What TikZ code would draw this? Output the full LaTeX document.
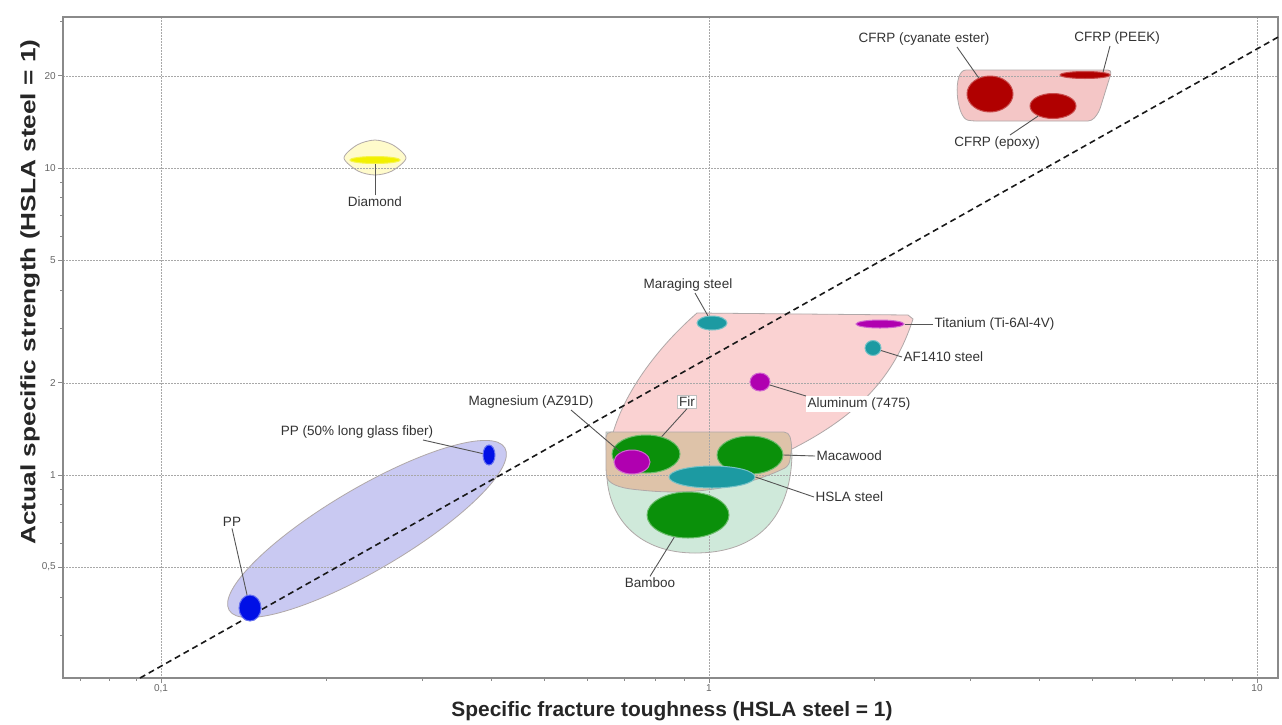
\documentclass[tikz,border=0pt]{standalone}
\usepackage{fontspec}
\setmainfont{Liberation Sans}
\usetikzlibrary{shapes.geometric,calc}
\definecolor{envpink}{HTML}{FAD2D2}
\definecolor{cfrpenv}{HTML}{F4C6C6}
\definecolor{envgreen}{HTML}{CFE9DA}
\definecolor{envtan}{HTML}{DEC3A9}
\definecolor{envblue}{HTML}{C9C9F2}
\definecolor{envyellow}{HTML}{FFFBCB}
\definecolor{envborder}{HTML}{B0A8A8}
\definecolor{darkred}{HTML}{B00000}
\definecolor{matgreen}{HTML}{0A900A}
\definecolor{tealmat}{HTML}{1C9AA2}
\definecolor{magmat}{HTML}{B000B0}
\definecolor{bluemat}{HTML}{0010E6}
\definecolor{yellowmat}{HTML}{F2F000}
\definecolor{gridgray}{HTML}{A8A8A8}
\definecolor{framegray}{HTML}{8A8A8A}
\definecolor{leadercol}{HTML}{555555}
\definecolor{labeltext}{HTML}{333333}
\tikzset{
  envelope/.style={draw=envborder, line width=0.8pt},
  gridline/.style={gridgray, line width=0.8pt, dash pattern=on 1.5pt off 1.5pt},
  mat/.style={ellipse, inner sep=0pt, line width=1pt},
  lbl/.style={font=\fontsize{13.5}{16}\selectfont, text=labeltext, fill=white, inner sep=1.5pt},
  leader/.style={leadercol, line width=0.9pt},
  ticklbl/.style={font=\fontsize{10}{12}\selectfont, text=black!60, inner sep=1pt},
}
\begin{document}
\begin{tikzpicture}[x=1pt,y=-1pt]
\useasboundingbox (0,0) rectangle (1282,724);
\fill[white] (0,0) rectangle (1282,724);

% envelopes
\filldraw[envelope, fill=cfrpenv] (966,70) [rounded corners=4pt] -- (1112,70) -- (1099,112) -- (1092,121) -- (972,121) [sharp corners] .. controls (956,118) and (952,70) .. (966,70) -- cycle;
\filldraw[envelope, fill=envyellow] plot[smooth cycle] coordinates {(344,158) (357,145) (375,140) (393,145) (406,158) (392,171) (375,175) (358,171)};
\filldraw[envelope, fill=envblue, rotate around={30.5:(367,529)}] (367,529) ellipse [x radius=160, y radius=41];
\filldraw[envelope, fill=envgreen] (606,432) -- (790,432) -- (792,455) .. controls (790,525) and (750,553) .. (695,553) .. controls (640,553) and (610,520) .. (607,478) -- cycle;
\filldraw[envelope, fill=envpink] (697,313) -- (908,315) -- (913,319) .. controls (895,375) and (860,415) .. (790,450) -- (700,462) -- (612,462) -- (610,445) .. controls (620,395) and (660,345) .. (697,313) -- cycle;
\filldraw[envelope, fill=envtan, rounded corners=5pt] (606,432) -- (789,432) -- (792,446) -- (789,466) .. controls (750,485) and (700,496) .. (640,490) .. controls (620,488) and (607,484) .. (606,470) -- cycle;

% grid
\foreach \gx in {161,709,1257} \draw[gridline] (\gx,17) -- (\gx,678);
\foreach \gy in {76,168,260,383,475,567} \draw[gridline] (63,\gy) -- (1278,\gy);

% frame and ticks
\draw[framegray, line width=1.8pt] (63,17) rectangle (1278,678);
\foreach \v in {0.07,0.08,0.09,0.2,0.3,0.4,0.5,0.6,0.7,0.8,0.9,2,3,4,5,6,7,8,9}
  \draw[framegray, line width=0.8pt] ({709+548*ln(\v)/ln(10)},678) -- ++(0,3);
\foreach \v in {0.1,1,10}
  \draw[framegray, line width=0.8pt] ({709+548*ln(\v)/ln(10)},678) -- ++(0,5);
\foreach \v in {0.3,0.4,0.6,0.7,0.8,0.9,3,4,6,7,8,9,30}
  \draw[framegray, line width=0.8pt] (63,{475-307*ln(\v)/ln(10)}) -- ++(-3,0);
\foreach \v in {0.5,1,2,5,10,20}
  \draw[framegray, line width=0.8pt] (63,{475-307*ln(\v)/ln(10)}) -- ++(-5,0);

% tick labels
\node[ticklbl, anchor=north] (tx1) at (161,683) {0,1};
\node[ticklbl, anchor=north] (tx2) at (709,683) {1};
\node[ticklbl, anchor=north] (tx3) at (1257,683) {10};
\node[ticklbl, anchor=east] (ty1) at (57,76) {20};
\node[ticklbl, anchor=east] (ty2) at (57,168) {10};
\node[ticklbl, anchor=east] (ty3) at (57,260) {5};
\node[ticklbl, anchor=east] (ty4) at (57,383) {2};
\node[ticklbl, anchor=east] (ty5) at (57,475) {1};
\node[ticklbl, anchor=east] (ty6) at (57,567) {0,5};

% axis titles
\node[rotate=90, text=black!85] (ylab) at (30,292) {\resizebox{505pt}{15pt}{\bfseries Actual specific strength (HSLA steel = 1)}};
\node[text=black!85] (xlab) at (672,711) {\resizebox{441pt}{15pt}{\bfseries Specific fracture toughness (HSLA steel = 1)}};

% reference line
\draw[black!90, line width=1.6pt, dash pattern=on 6pt off 4pt] (140,678) -- (1280,36);

% materials
\node[mat, fill=darkred, draw=darkred!70, minimum width=46pt, minimum height=36pt] (cy) at (990,94) {};
\node[mat, fill=darkred, draw=darkred!70, minimum width=46pt, minimum height=25pt] (ep) at (1053,106) {};
\node[mat, fill=darkred, draw=darkred!70, minimum width=50pt, minimum height=7pt] (pk) at (1085,75) {};
\node[mat, fill=yellowmat, draw=yellowmat!70, minimum width=50pt, minimum height=7pt] (dm) at (375,160) {};
\node[mat, fill=bluemat, draw=bluemat!60, minimum width=22pt, minimum height=26pt] (pp) at (250,608) {};
\node[mat, fill=bluemat, draw=bluemat!60, minimum width=12pt, minimum height=20pt] (pg) at (489,455) {};
\node[mat, fill=tealmat, draw=tealmat!60, minimum width=30pt, minimum height=14pt] (mar) at (712,323) {};
\node[mat, fill=magmat, draw=magmat!60, minimum width=48pt, minimum height=8pt] (ti) at (880,324) {};
\node[mat, fill=tealmat, draw=tealmat!60, minimum width=16pt, minimum height=15pt] (af) at (873,348) {};
\node[mat, fill=magmat, draw=magmat!60, minimum width=20pt, minimum height=18pt] (al) at (760,382) {};
\node[mat, fill=matgreen, draw=matgreen!60, minimum width=68pt, minimum height=38pt] (fir) at (646,454) {};
\node[mat, fill=matgreen, draw=matgreen!60, minimum width=66pt, minimum height=38pt] (mac) at (750,455) {};
\node[mat, fill=magmat, draw=magmat!60, minimum width=36pt, minimum height=24pt] (mg) at (632,462) {};
\node[mat, fill=tealmat, draw=tealmat!60, minimum width=86pt, minimum height=22pt] (hs) at (712,477) {};
\node[mat, fill=matgreen, draw=matgreen!60, minimum width=82pt, minimum height=46pt] (bam) at (688,515) {};

% labels
\node[lbl] (lCy) at (924,39) {CFRP (cyanate ester)};
\node[lbl] (lPk) at (1117,38) {CFRP (PEEK)};
\node[lbl] (lEp) at (997,143) {CFRP (epoxy)};
\node[lbl] (lDm) at (375,202) {Diamond};
\node[lbl] (lPP) at (232,522) {PP};
\node[lbl] (lPg) at (357,432) {PP (50\% long glass fiber)};
\node[lbl] (lMar) at (688,285) {Maraging steel};
\node[lbl, anchor=west] (lTi) at (933,324) {Titanium (Ti-6Al-4V)};
\node[lbl, anchor=west] (lAf) at (902,357) {AF1410 steel};
\node[lbl, anchor=west] (lAl) at (806,404) {Aluminum (7475)};
\node[lbl, draw=black!25, line width=0.6pt] (lFir) at (687,402) {Fir};
\node[lbl] (lMg) at (531,402) {Magnesium (AZ91D)};
\node[lbl, anchor=west] (lMac) at (815,456) {Macawood};
\node[lbl, anchor=west] (lHs) at (814,497) {HSLA steel};
\node[lbl] (lBam) at (650,583) {Bamboo};

% leaders
\draw[leader] ([xshift=33pt]lCy.south) -- (cy);
\draw[leader] ([xshift=-7pt]lPk.south) -- (pk.north east);
\draw[leader] ([xshift=13pt]lEp.north) -- (ep);
\draw[leader] (lDm.north) -- (dm.south);
\draw[leader] (lPP.south) -- (pp);
\draw[leader] ([xshift=66pt]lPg.south) -- (pg);
\draw[leader] ([xshift=7pt]lMar.south) -- (mar);
\draw[leader] (lTi.west) -- (ti.east);
\draw[leader] (lAf.west) -- (af);
\draw[leader] (lAl.north west) -- (al);
\draw[leader] (lFir.south) -- (fir);
\draw[leader] ([xshift=40pt]lMg.south) -- (mg);
\draw[leader] (lMac.west) -- (mac.east);
\draw[leader] (lHs.west) -- (hs.east);
\draw[leader] (lBam.north) -- (bam);
\end{tikzpicture}
\end{document}
